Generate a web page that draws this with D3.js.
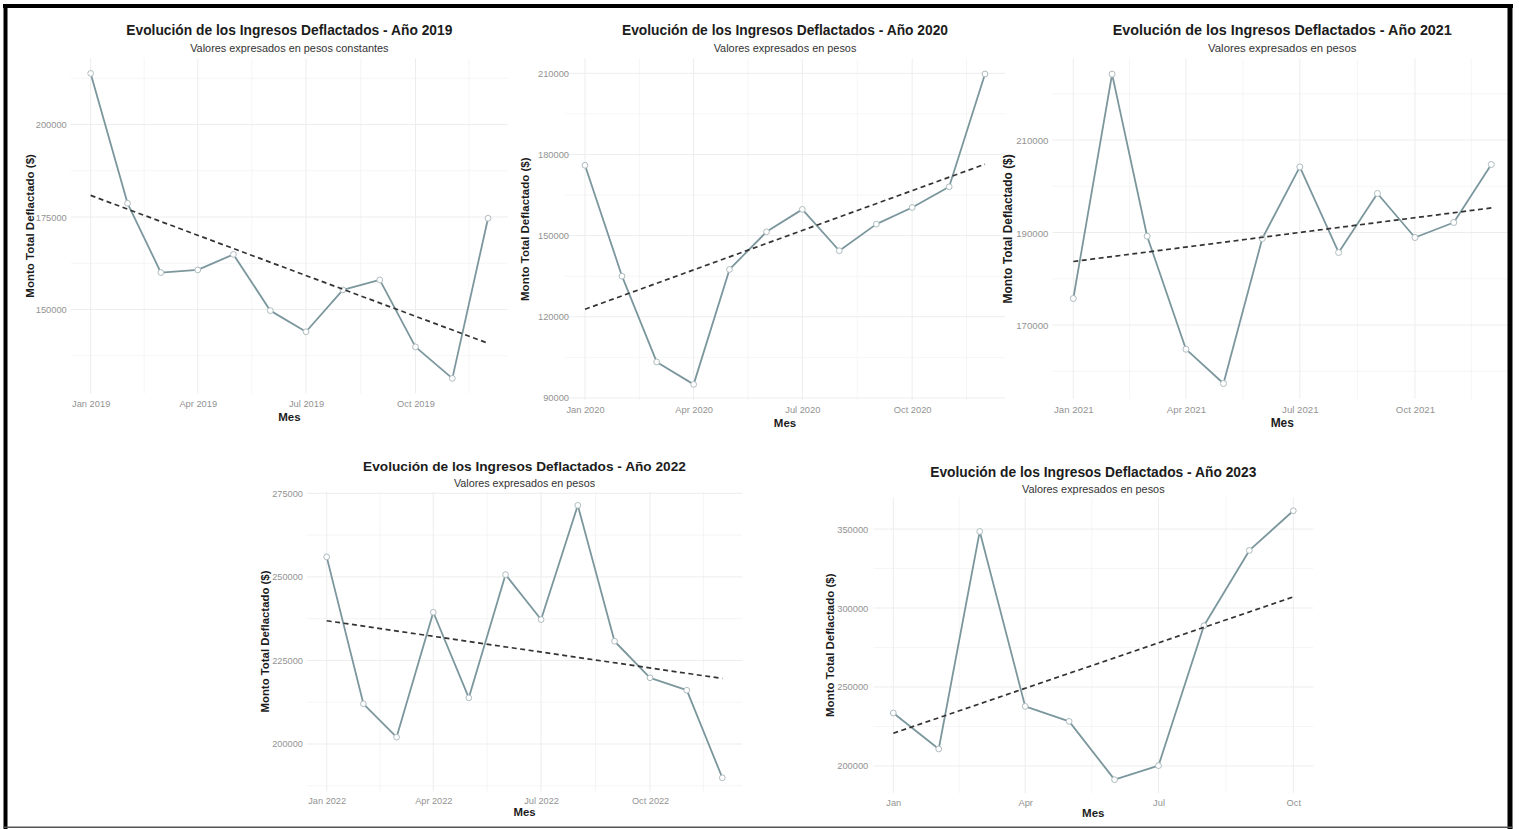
<!DOCTYPE html>
<html>
<head>
<meta charset="utf-8">
<script src="https://cdn.jsdelivr.net/npm/d3@7"></script>
<style>
body { margin: 0; background: #fff; }
svg text { font-family: "Liberation Sans", Arial, sans-serif; }
</style>
</head>
<body>
<div id="chart"></div>
<script>
// montos mensuales deflactados (enero -> ultimo mes)
var ingresos2019 = [213800, 178700, 160000, 160700, 164900, 149700, 144000, 155300, 158000, 139900, 131400, 174650];
var ingresos2020 = [176000, 135000, 103300, 95000, 137500, 151400, 159700, 144400, 154250, 160400, 168050, 209740];
var ingresos2021 = [175730, 224230, 189200, 164770, 157350, 188700, 204180, 185680, 198430, 188920, 192160, 204700];
var ingresos2022 = [255980, 212020, 202030, 239410, 213820, 250690, 237230, 271410, 230740, 219800, 216090, 189890];
var ingresos2023 = [233540, 210760, 348480, 237720, 228230, 191330, 200190, 288800, 336460, 361580];

var ticksY2019 = [150000, 175000, 200000];
var ticksY2020 = [90000, 120000, 150000, 180000, 210000];
var ticksY2021 = [170000, 190000, 210000];
var ticksY2022 = [200000, 225000, 250000, 275000];
var ticksY2023 = [200000, 250000, 300000, 350000];

var mesesTick = [0, 3, 6, 9];
var etiquetasX2019 = ['Jan 2019', 'Apr 2019', 'Jul 2019', 'Oct 2019'];
var etiquetasX2020 = ['Jan 2020', 'Apr 2020', 'Jul 2020', 'Oct 2020'];
var etiquetasX2021 = ['Jan 2021', 'Apr 2021', 'Jul 2021', 'Oct 2021'];
var etiquetasX2022 = ['Jan 2022', 'Apr 2022', 'Jul 2022', 'Oct 2022'];
var etiquetasX2023 = ['Jan', 'Apr', 'Jul', 'Oct'];

var titulos = [
    'Evolución de los Ingresos Deflactados - Año 2019',
    'Evolución de los Ingresos Deflactados - Año 2020',
    'Evolución de los Ingresos Deflactados - Año 2021',
    'Evolución de los Ingresos Deflactados - Año 2022',
    'Evolución de los Ingresos Deflactados - Año 2023'
];
var subtitulos = [
    'Valores expresados en pesos constantes',
    'Valores expresados en pesos',
    'Valores expresados en pesos',
    'Valores expresados en pesos',
    'Valores expresados en pesos'
];

var dim = { 'width': 1519, 'height': 829 };

var paneles = [
    { anio: 2019, valores: ingresos2019, ticksY: ticksY2019, etiquetasX: etiquetasX2019,
      left: 70.8, right: 507.9, top: 58.2, bottom: 393.6, tituloY: 30, subY: 48, mesY: 417, yTituloX: 30, padY: 4, k: 1 },
    { anio: 2020, valores: ingresos2020, ticksY: ticksY2020, etiquetasX: etiquetasX2020,
      left: 565, right: 1005, top: 58.5, bottom: 399.9, tituloY: 30, subY: 48, mesY: 423, yTituloX: 525, padY: -4, k: 1 },
    { anio: 2021, valores: ingresos2021, ticksY: ticksY2021, etiquetasX: etiquetasX2021,
      left: 1052.4, right: 1512.2, top: 58.7, bottom: 399, tituloY: 30, subY: 48, mesY: 422.7, yTituloX: 1008, padY: 4, k: 1.04 },
    { anio: 2022, valores: ingresos2022, ticksY: ticksY2022, etiquetasX: etiquetasX2022,
      left: 306.9, right: 742.1, top: 491.7, bottom: 791.4, tituloY: 466.7, subY: 483.3, mesY: 811.7, yTituloX: 265, padY: 4, k: 0.99 },
    { anio: 2023, valores: ingresos2023, ticksY: ticksY2023, etiquetasX: etiquetasX2023,
      left: 873.3, right: 1313.3, top: 497.3, bottom: 793.1, tituloY: 472.7, subY: 489, mesY: 813.3, yTituloX: 830, padY: 5, k: 1 }
];

var svg = d3.select('#chart').append('svg')
    .attr('width', dim.width)
    .attr('height', dim.height);

svg.append('rect')
    .attr('width', dim.width).attr('height', dim.height)
    .attr('fill', '#fff');

var DIA = 86400000;

function dibujarPanel(p, idx) {
    var k = p.k;
    var datos = p.valores.map(function (v, i) {
        return { fecha: new Date(p.anio, i, 1), valor: v };
    });

    var f0 = datos[0].fecha, f1 = datos[datos.length - 1].fecha;
    var padX = (f1 - f0) * 0.05;
    var xScale = d3.scaleTime()
        .domain([new Date(+f0 - padX), new Date(+f1 + padX)])
        .range([p.left, p.right]);

    var ext = d3.extent(p.valores);
    var padY = (ext[1] - ext[0]) * 0.05;
    var yScale = d3.scaleLinear()
        .domain([ext[0] - padY, ext[1] + padY])
        .range([p.bottom, p.top]);

    var g = svg.append('g').attr('class', 'panel-' + p.anio);

    // grilla menor / mayor (estilo theme_minimal)
    var fechasTick = mesesTick.map(function (m) { return new Date(p.anio, m, 1); });
    var menoresX = [];
    for (var i = 0; i < fechasTick.length - 1; i++) {
        menoresX.push(new Date((+fechasTick[i] + +fechasTick[i + 1]) / 2));
    }
    var paso = (fechasTick[1] - fechasTick[0]);
    menoresX.push(new Date(+fechasTick[fechasTick.length - 1] + paso / 2));
    menoresX.unshift(new Date(+fechasTick[0] - paso / 2));
    var dom = xScale.domain();
    menoresX = menoresX.filter(function (d) { return d >= dom[0] && d <= dom[1]; });

    var dy = p.ticksY[1] - p.ticksY[0];
    var menoresY = [];
    for (var v = p.ticksY[0] - dy / 2; v <= p.ticksY[p.ticksY.length - 1] + dy / 2; v += dy) {
        menoresY.push(v);
    }
    var ydom = yScale.domain();
    menoresY = menoresY.filter(function (d) { return d >= ydom[0] && d <= ydom[1]; });

    g.selectAll('.gmx').data(menoresX).enter().append('line')
        .attr('x1', function (d) { return xScale(d); })
        .attr('x2', function (d) { return xScale(d); })
        .attr('y1', p.top).attr('y2', p.bottom)
        .attr('stroke', '#f3f3f3').attr('stroke-width', 0.8);
    g.selectAll('.gmy').data(menoresY).enter().append('line')
        .attr('x1', p.left).attr('x2', p.right)
        .attr('y1', function (d) { return yScale(d); })
        .attr('y2', function (d) { return yScale(d); })
        .attr('stroke', '#f3f3f3').attr('stroke-width', 0.8);
    g.selectAll('.gx').data(fechasTick).enter().append('line')
        .attr('x1', function (d) { return xScale(d); })
        .attr('x2', function (d) { return xScale(d); })
        .attr('y1', p.top).attr('y2', p.bottom)
        .attr('stroke', '#ededed').attr('stroke-width', 1);
    g.selectAll('.gy').data(p.ticksY).enter().append('line')
        .attr('x1', p.left).attr('x2', p.right)
        .attr('y1', function (d) { return yScale(d); })
        .attr('y2', function (d) { return yScale(d); })
        .attr('stroke', '#ededed').attr('stroke-width', 1);

    // ejes
    var ejeX = g.append('g')
        .attr('transform', 'translate(0,' + p.bottom + ')')
        .call(d3.axisBottom(xScale)
            .tickValues(fechasTick)
            .tickSize(0)
            .tickFormat(function (d, i) { return p.etiquetasX[i]; }));
    ejeX.select('.domain').remove();
    ejeX.selectAll('text')
        .attr('y', 10 * k).attr('dy', null)
        .attr('dominant-baseline', 'central')
        .attr('font-size', 9.3 * k)
        .attr('fill', '#939393');

    var ejeY = g.append('g')
        .attr('transform', 'translate(' + p.left + ',0)')
        .call(d3.axisLeft(yScale)
            .tickValues(p.ticksY)
            .tickSize(0)
            .tickPadding(p.padY)
            .tickFormat(d3.format('d')));
    ejeY.select('.domain').remove();
    ejeY.selectAll('text')
        .attr('dy', null)
        .attr('dominant-baseline', 'central')
        .attr('font-size', 9.3 * k)
        .attr('fill', '#939393');

    // linea de datos
    var line = d3.line()
        .x(function (d) { return xScale(d.fecha); })
        .y(function (d) { return yScale(d.valor); });

    g.append('path')
        .datum(datos)
        .attr('d', line)
        .attr('fill', 'none')
        .attr('stroke', '#7b979d')
        .attr('stroke-width', 1.8)
        .attr('stroke-linejoin', 'round');

    g.selectAll('.pt').data(datos).enter().append('circle')
        .attr('cx', function (d) { return xScale(d.fecha); })
        .attr('cy', function (d) { return yScale(d.valor); })
        .attr('r', 2.9 * k)
        .attr('fill', '#fff')
        .attr('stroke', '#aebcbf')
        .attr('stroke-width', 1);

    // tendencia lineal (minimos cuadrados sobre dias)
    var xs = datos.map(function (d) { return (d.fecha - f0) / DIA; });
    var ys = p.valores;
    var mx = d3.mean(xs), my = d3.mean(ys);
    var sxy = d3.sum(xs, function (xv, i) { return (xv - mx) * (ys[i] - my); });
    var sxx = d3.sum(xs, function (xv) { return (xv - mx) * (xv - mx); });
    var pend = sxy / sxx;
    var tendencia = [f0, f1].map(function (f) {
        var t = (f - f0) / DIA;
        return { fecha: f, valor: my + pend * (t - mx) };
    });

    g.append('path')
        .datum(tendencia)
        .attr('d', line)
        .attr('fill', 'none')
        .attr('stroke', '#333')
        .attr('stroke-width', 1.7)
        .attr('stroke-dasharray', '5,3.5');

    // textos
    var cx = (p.left + p.right) / 2;
    g.append('text')
        .attr('x', cx).attr('y', p.tituloY)
        .attr('text-anchor', 'middle')
        .attr('dominant-baseline', 'central')
        .attr('font-size', 13.8 * k)
        .attr('font-weight', 'bold')
        .attr('fill', '#1c1c1c')
        .text(titulos[idx]);
    g.append('text')
        .attr('x', cx).attr('y', p.subY)
        .attr('text-anchor', 'middle')
        .attr('dominant-baseline', 'central')
        .attr('font-size', 10.9 * k)
        .attr('fill', '#333')
        .text(subtitulos[idx]);
    g.append('text')
        .attr('x', cx).attr('y', p.mesY)
        .attr('text-anchor', 'middle')
        .attr('dominant-baseline', 'central')
        .attr('font-size', 11.5 * k)
        .attr('font-weight', 'bold')
        .attr('fill', '#1c1c1c')
        .text('Mes');
    var cy = (p.top + p.bottom) / 2;
    g.append('text')
        .attr('transform', 'translate(' + p.yTituloX + ',' + cy + ') rotate(-90)')
        .attr('text-anchor', 'middle')
        .attr('dominant-baseline', 'central')
        .attr('font-size', 11.5 * k)
        .attr('font-weight', 'bold')
        .attr('fill', '#1c1c1c')
        .text('Monto Total Deflactado ($)');
}

paneles.forEach(dibujarPanel);

// marco
var marco = svg.append('g');
marco.append('rect').attr('x', 3).attr('y', 4).attr('width', 1510).attr('height', 4).attr('fill', '#000');
marco.append('rect').attr('x', 3.5).attr('y', 4).attr('width', 4).attr('height', 825).attr('fill', '#000');
marco.append('rect').attr('x', 1507.5).attr('y', 4).attr('width', 5).attr('height', 825).attr('fill', '#000');
marco.append('rect').attr('x', 3.5).attr('y', 826.5).attr('width', 1509).attr('height', 1.5).attr('fill', '#555');
</script>
</body>
</html>
